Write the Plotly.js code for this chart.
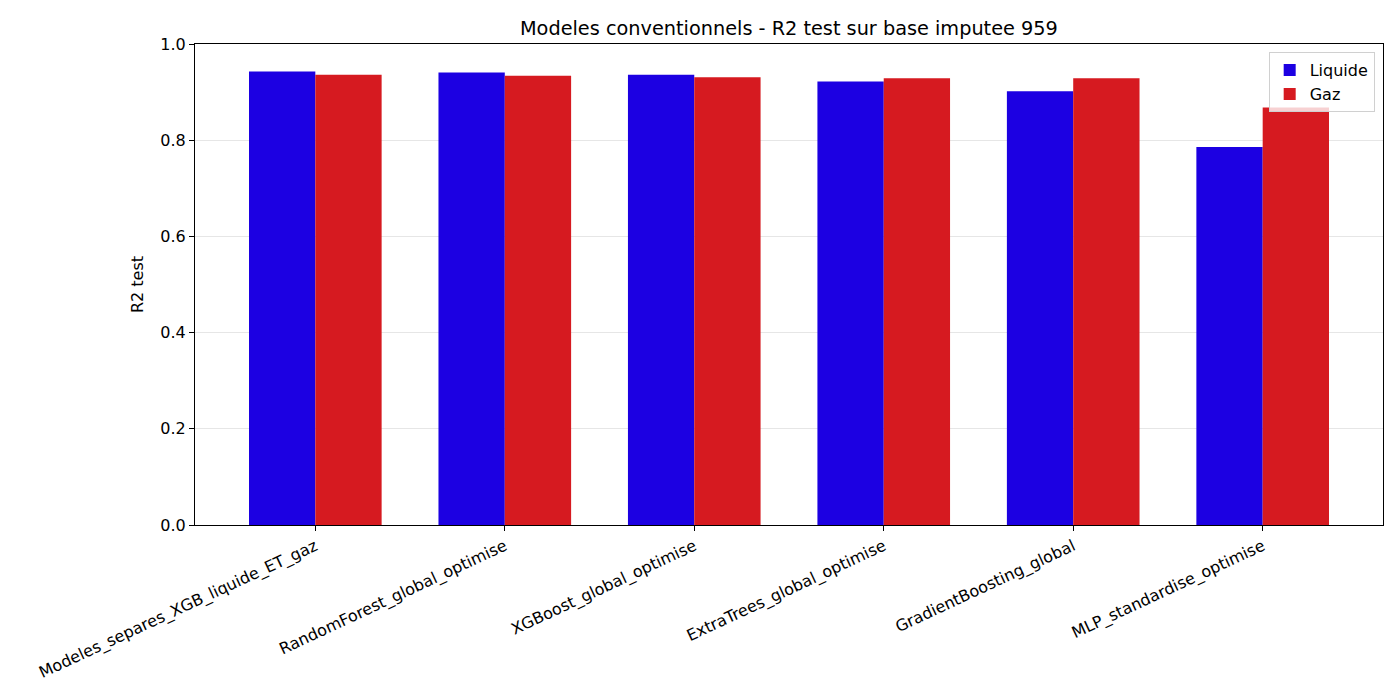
<!DOCTYPE html>
<html>
<head>
<meta charset="utf-8">
<script src="https://cdn.plot.ly/plotly-3.0.1.min.js"></script>
<style>html,body{margin:0;padding:0;background:#fff;}#chart{width:1400px;height:700px;}</style>
</head>
<body>
<div id="chart"></div>
<script>
const categories = [
  "Modeles_separes_XGB_liquide_ET_gaz",
  "RandomForest_global_optimise",
  "XGBoost_global_optimise",
  "ExtraTrees_global_optimise",
  "GradientBoosting_global",
  "MLP_standardise_optimise"
];
const liquide = [0.943, 0.941, 0.936, 0.922, 0.902, 0.786];
const gaz = [0.936, 0.934, 0.931, 0.929, 0.929, 0.868];
const yTicks = [0, 0.2, 0.4, 0.6, 0.8, 1.0];

const idx = categories.map((_, i) => i);
const font = {family: "DejaVu Sans", size: 16, color: "#000"};

const traces = [
  {type: "bar", name: "Liquide", x: idx.map(i => i - 0.175), y: liquide, width: 0.35,
   marker: {color: "#1c00e2", line: {width: 0}}},
  {type: "bar", name: "Gaz", x: idx.map(i => i + 0.175), y: gaz, width: 0.35,
   marker: {color: "#d61a20", line: {width: 0}}}
];

const layout = {
  width: 1400, height: 700,
  margin: {l: 195, r: 17, t: 44, b: 175},
  paper_bgcolor: "#fff", plot_bgcolor: "#fff",
  font: font,
  barmode: "overlay",
  title: {text: "Modeles conventionnels - R2 test sur base imputee 959",
          font: {family: "DejaVu Sans", size: 19.3, color: "#000"},
          x: 0.5635, xanchor: "center", y: 0.96, yanchor: "middle"},
  xaxis: {
    range: [-0.635, 5.635],
    tickmode: "array", tickvals: idx, ticktext: categories,
    tickangle: -25, ticks: "outside", ticklen: 5, tickcolor: "#000",
    showline: true, linecolor: "#000", linewidth: 1, mirror: true,
    showgrid: false, zeroline: false, tickfont: font
  },
  yaxis: {
    range: [0, 1],
    tickmode: "array", tickvals: yTicks, tickformat: ".1f",
    ticks: "outside", ticklen: 5, tickcolor: "#000",
    showline: true, linecolor: "#000", linewidth: 1, mirror: true,
    showgrid: true, gridcolor: "rgba(128,128,128,0.2)", gridwidth: 1,
    zeroline: false, tickfont: font,
    title: {text: "R2 test", font: font, standoff: 12}
  },
  legend: {
    x: 0.993, xanchor: "right", y: 0.983, yanchor: "top",
    bgcolor: "rgba(255,255,255,0.8)", bordercolor: "#d0d0d0", borderwidth: 1,
    font: font, tracegroupgap: 2
  },
  showlegend: true
};

Plotly.newPlot("chart", traces, layout, {displayModeBar: false, staticPlot: true});
</script>
</body>
</html>
